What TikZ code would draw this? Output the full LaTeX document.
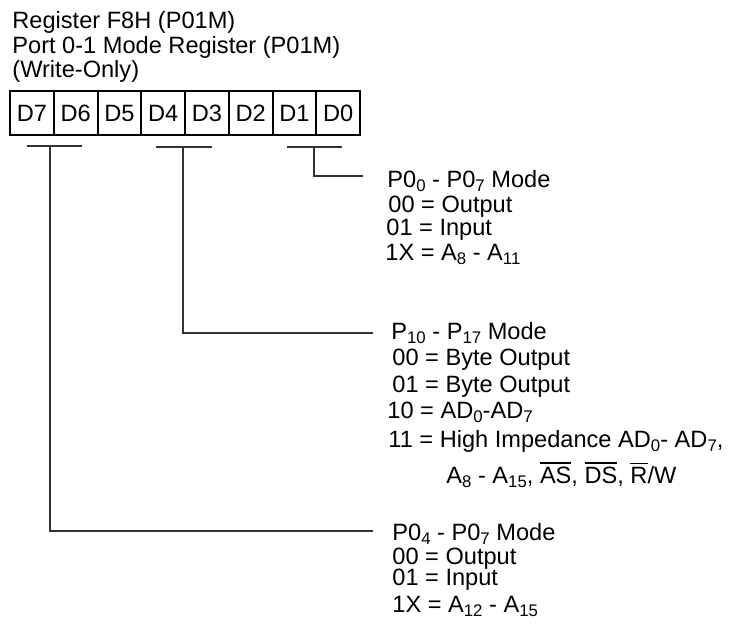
\documentclass[tikz,border=0pt]{standalone}
\usepackage{fontspec}
\setmainfont{Liberation Sans}
\newcommand\sbs[1]{\raisebox{-2.4pt}{\fontsize{8.4}{8.4}\selectfont #1}}
\newcommand\ovl[1]{{\setbox0\hbox{#1}\rlap{\rule[\dimexpr\ht0+1.3pt\relax]{\wd0}{0.8pt}}\box0}}
\begin{document}
\begin{tikzpicture}[x=0.5pt,y=-0.5pt,
  txt/.style={anchor=base west, inner sep=0pt, font=\fontsize{11.8}{12}\selectfont},
  cell/.style={draw, line width=1pt, minimum width=21.875pt, minimum height=22pt, inner sep=0pt, font=\fontsize{11.8}{12}\selectfont},
  brk/.style={line width=0.6pt, draw=black!80}]
\useasboundingbox (0,0) rectangle (729,627);

% title
\node[txt] (t1) at (12,28) {Register F8H (P01M)};
\node[txt] (t2) at (12,53) {Port 0-1 Mode Register (P01M)};
\node[txt] (t3) at (12,77) {(Write-Only)};

% register cells
\foreach \n [count=\i from 0] in {7,6,5,4,3,2,1,0}
  \node[cell] (d\n) at ({10+43.75*(\i+0.5)},113) {D\n};

% bracket D1-D0
\coordinate (b3l) at (287,147); \coordinate (b3r) at (342,147);
\coordinate (b3m) at (314,147); \coordinate (b3e) at (363,176);
\draw[brk] (b3l) -- (b3r);
\draw[brk] (b3m) |- (b3e);

% bracket D4-D3
\coordinate (b2l) at (156,147); \coordinate (b2r) at (212,147);
\coordinate (b2m) at (183,147); \coordinate (b2e) at (373,333);
\draw[brk] (b2l) -- (b2r);
\draw[brk] (b2m) |- (b2e);

% bracket D7-D6
\coordinate (b1l) at (27,146); \coordinate (b1r) at (82,146);
\coordinate (b1m) at (50,146); \coordinate (b1e) at (373,531);
\draw[brk] (b1l) -- (b1r);
\draw[brk] (b1m) |- (b1e);

% block 1
\node[txt] (p0a) at (387,187) {P0\sbs{0} - P0\sbs{7} Mode};
\node[txt] (p0b) at (388,212) {00 = Output};
\node[txt] (p0c) at (386,235) {01 = Input};
\node[txt] (p0d) at (385,260) {1X = A\sbs{8} - A\sbs{11}};

% block 2
\node[txt] (p1a) at (391,339) {P\sbs{10} - P\sbs{17} Mode};
\node[txt] (p1b) at (392,365) {00 = Byte Output};
\node[txt] (p1c) at (392,392) {01 = Byte Output};
\node[txt] (p1d) at (387,418) {10 = AD\sbs{0}-AD\sbs{7}};
\node[txt] (p1e) at (388,447) {11 = High Impedance AD\sbs{0}- AD\sbs{7},};
\node[txt] (p1f) at (446,483) {A\sbs{8} - A\sbs{15}, \ovl{AS}, \ovl{DS}, \ovl{R}/W};

% block 3
\node[txt] (p2a) at (392,540) {P0\sbs{4} - P0\sbs{7} Mode};
\node[txt] (p2b) at (392,564) {00 = Output};
\node[txt] (p2c) at (392,585) {01 = Input};
\node[txt] (p2d) at (392,612) {1X = A\sbs{12} - A\sbs{15}};
\end{tikzpicture}
\end{document}
